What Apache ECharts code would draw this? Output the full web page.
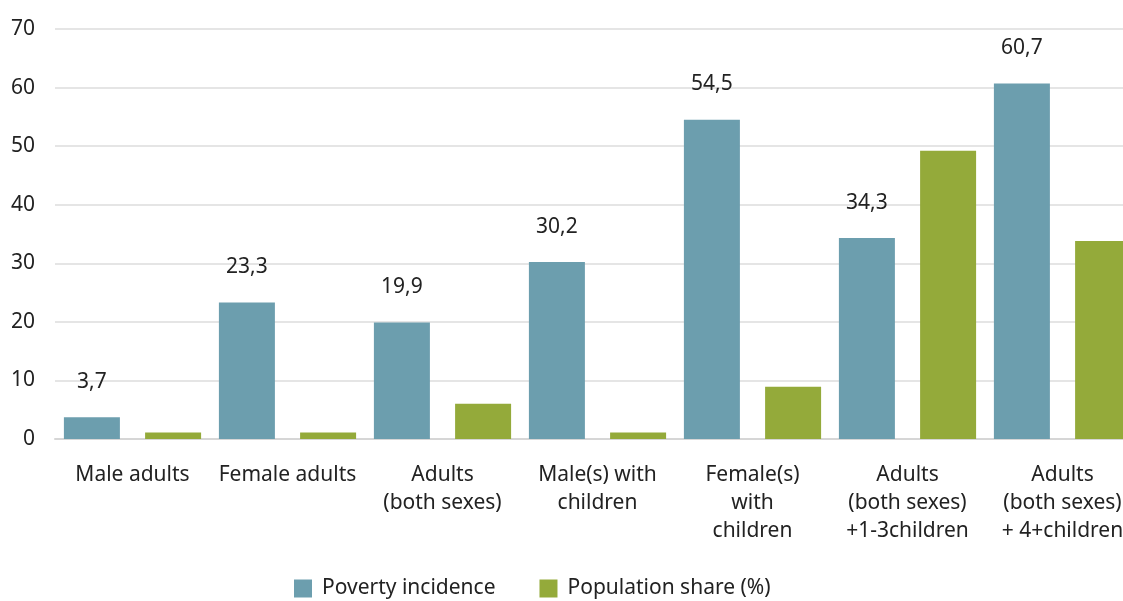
<!DOCTYPE html>
<html>
<head>
    <meta charset="utf-8">
    <title>Poverty incidence</title>
    <script src="https://cdn.jsdelivr.net/npm/echarts@6/dist/echarts.min.js"></script>
    <style>
        html, body { margin: 0; padding: 0; overflow: hidden; background: #fff; }
    </style>
</head>
<body>
<div id="main" style="width: 1140px;height:601px;"></div>
<script type="text/javascript">
    // data
    var categories = [
        'Male adults',
        'Female adults',
        'Adults\n(both sexes)',
        'Male(s) with\nchildren',
        'Female(s)\nwith\nchildren',
        'Adults\n(both sexes)\n+1-3children',
        'Adults\n(both sexes)\n+ 4+children'
    ];
    var povertyIncidence = [3.7, 23.3, 19.9, 30.2, 54.5, 34.3, 60.7];
    var populationShare = [1.1, 1.1, 6.0, 1.1, 8.9, 49.2, 33.8];
    var seriesNames = ['Poverty incidence', 'Population share (%)'];

    var font = 'Noto Sans';
    var myChart = echarts.init(document.getElementById('main'));

    myChart.setOption({
        animation: false,
        textStyle: { fontFamily: font },
        color: ['#6c9eae', '#94aa3a'],
        grid: {
            left: 55,
            right: 0,
            top: 29,
            bottom: 162
        },
        legend: {
            left: 289,
            bottom: -3,
            itemWidth: 18,
            itemHeight: 18,
            itemGap: 44,
            icon: 'rect',
            textStyle: { fontSize: 21, color: '#222', fontFamily: font, padding: [0, 0, 0, 5] },
            data: seriesNames
        },
        xAxis: {
            type: 'category',
            data: categories,
            axisLine: { lineStyle: { color: '#d6d6d6', width: 2 } },
            axisTick: { show: false },
            axisLabel: {
                interval: 0,
                margin: 22,
                fontSize: 21,
                lineHeight: 28,
                color: '#222',
                fontFamily: font
            }
        },
        yAxis: {
            type: 'value',
            min: 0,
            max: 70,
            interval: 10,
            axisLabel: { fontSize: 21, color: '#222', margin: 20, fontFamily: font },
            splitLine: { lineStyle: { color: '#dcdcdc', width: 1.5 } }
        },
        series: [
            {
                name: seriesNames[0],
                type: 'bar',
                data: povertyIncidence,
                barWidth: 56,
                barGap: '45%',
                label: {
                    show: true,
                    position: 'top',
                    distance: 25,
                    fontSize: 21,
                    color: '#222',
                    fontFamily: font,
                    formatter: function (p) {
                        return String(p.value).replace('.', ',');
                    }
                }
            },
            {
                name: seriesNames[1],
                type: 'bar',
                data: populationShare,
                barWidth: 56
            }
        ]
    });
</script>
</body>
</html>
